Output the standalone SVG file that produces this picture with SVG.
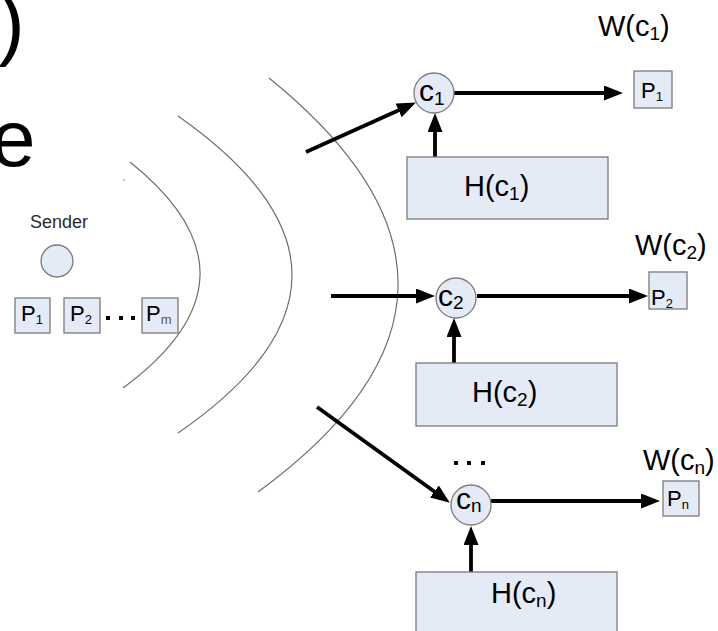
<svg xmlns="http://www.w3.org/2000/svg" width="718" height="631" viewBox="0 0 718 631">
  <defs>
    <marker id="arrow" markerUnits="userSpaceOnUse" markerWidth="19" markerHeight="15" refX="8" refY="7.5" orient="auto">
      <path d="M0,0 L19,7.5 L0,15 z" fill="#000"/>
    </marker>
  </defs>
  <style>
    text { font-family: "Liberation Sans", Arial, sans-serif; fill: #000; }
    .wave { fill: none; stroke: #6e6e6e; stroke-width: 1.2; }
    .node { fill: #e4eaf6; stroke: #7a7a7a; stroke-width: 1.3; }
    .link { fill: none; stroke: #000; stroke-width: 3.8; marker-end: url(#arrow); }
    .big { font-size: 80px; }
    .lbl { font-size: 29px; }
    .sub { font-size: 19px; }
    .cl { font-size: 30px; }
    .csub { font-size: 19px; }
    .pk { font-size: 22px; }
    .psub { font-size: 13px; }
    .small { font-size: 18px; fill: #2a2a2a; }
  </style>

  <rect width="718" height="631" fill="#fff"/>

  <!-- fragments of the large title text at the left edge -->
  <text class="big" x="-2" y="50">)</text>
  <text class="big" x="-9" y="166">e</text>

  <!-- broadcast wavefronts -->
  <g id="waves">
    <path class="wave" d="M130,162 Q273.5,277 123,388"/>
    <path class="wave" d="M178,116 Q406,276 178,433"/>
    <path class="wave" d="M269,78 Q532.5,291 258,492"/>
    <circle cx="124" cy="180" r="0.8" fill="#777"/>
  </g>

  <!-- sender -->
  <g id="sender">
    <text class="small" x="59" y="228" text-anchor="middle">Sender</text>
    <circle class="node" cx="57" cy="261" r="16"/>
  </g>
  <g id="sender-p1">
    <rect class="node" x="15" y="298" width="35" height="35"/>
    <text class="pk" x="21" y="321">P<tspan class="psub" dy="3">1</tspan></text>
  </g>
  <g id="sender-p2">
    <rect class="node" x="64" y="298" width="36" height="35"/>
    <text class="pk" x="70" y="321">P<tspan class="psub" dy="3">2</tspan></text>
  </g>
  <g id="sender-dots" fill="#000">
    <rect x="106" y="316" width="4" height="4"/>
    <rect x="119" y="316" width="4" height="4"/>
    <rect x="131" y="316" width="4" height="4"/>
  </g>
  <g id="sender-pm">
    <rect class="node" x="142" y="298" width="36" height="35"/>
    <text class="pk" x="146" y="321">P<tspan class="psub" font-size="9" fill="#555" dy="3">m</tspan></text>
  </g>

  <!-- connectors -->
  <g id="connectors">
    <line class="link" x1="306" y1="152" x2="405.9" y2="107.1"/>
    <line class="link" x1="435" y1="157" x2="435" y2="124"/>
    <line class="link" x1="454" y1="93" x2="612" y2="93"/>

    <line class="link" x1="331" y1="296" x2="424" y2="296"/>
    <line class="link" x1="454" y1="363" x2="454" y2="329"/>
    <line class="link" x1="477" y1="296" x2="637" y2="296"/>

    <line class="link" x1="317" y1="407" x2="440.9" y2="496.2"/>
    <line class="link" x1="471" y1="572" x2="471" y2="537"/>
    <line class="link" x1="491" y1="501" x2="649" y2="501"/>
  </g>

  <!-- receiver 1 -->
  <g id="c1">
    <circle class="node" cx="434" cy="93" r="20"/>
    <text class="cl" x="419" y="101">c<tspan class="csub" dy="4">1</tspan></text>
  </g>
  <g id="h-c1">
    <rect class="node" x="407" y="157" width="201" height="62"/>
    <text class="lbl" x="464" y="196">H(c<tspan class="sub" dy="4">1</tspan><tspan dy="-4">)</tspan></text>
  </g>
  <g id="p-c1">
    <text class="lbl" x="598" y="36">W(c<tspan class="sub" dy="4">1</tspan><tspan dy="-4">)</tspan></text>
    <rect class="node" x="634" y="71" width="38" height="37"/>
    <text class="pk" x="641" y="98">P<tspan class="psub" dy="3">1</tspan></text>
  </g>

  <!-- receiver 2 -->
  <g id="c2">
    <circle class="node" cx="456" cy="298" r="20"/>
    <text class="cl" x="438" y="306">c<tspan class="csub" dy="3">2</tspan></text>
  </g>
  <g id="h-c2">
    <rect class="node" x="416" y="363" width="201" height="63"/>
    <text class="lbl" x="472" y="402">H(c<tspan class="sub" dy="4">2</tspan><tspan dy="-4">)</tspan></text>
  </g>
  <g id="p-c2">
    <text class="lbl" x="635" y="255">W(c<tspan class="sub" dy="4">2</tspan><tspan dy="-4">)</tspan></text>
    <rect class="node" x="649" y="272" width="38" height="37"/>
    <text class="pk" x="651" y="305">P<tspan class="psub" dy="3">2</tspan></text>
  </g>

  <!-- ellipsis between receivers -->
  <g id="more" fill="#000">
    <rect x="454" y="461" width="4" height="4"/>
    <rect x="467" y="461" width="4" height="4"/>
    <rect x="481" y="461" width="4" height="4"/>
  </g>

  <!-- receiver n -->
  <g id="cn">
    <circle class="node" cx="471" cy="505" r="20"/>
    <text class="cl" x="456" y="509">c<tspan class="csub" dy="3">n</tspan></text>
  </g>
  <g id="h-cn">
    <rect class="node" x="416" y="572" width="201" height="70"/>
    <text class="lbl" x="491" y="603">H(c<tspan class="sub" dy="4">n</tspan><tspan dy="-4">)</tspan></text>
  </g>
  <g id="p-cn">
    <text class="lbl" x="643" y="470">W(c<tspan class="sub" dy="4">n</tspan><tspan dy="-4">)</tspan></text>
    <rect class="node" x="663" y="481" width="36" height="35"/>
    <text class="pk" x="667" y="506">P<tspan class="psub" dy="3">n</tspan></text>
  </g>
</svg>
